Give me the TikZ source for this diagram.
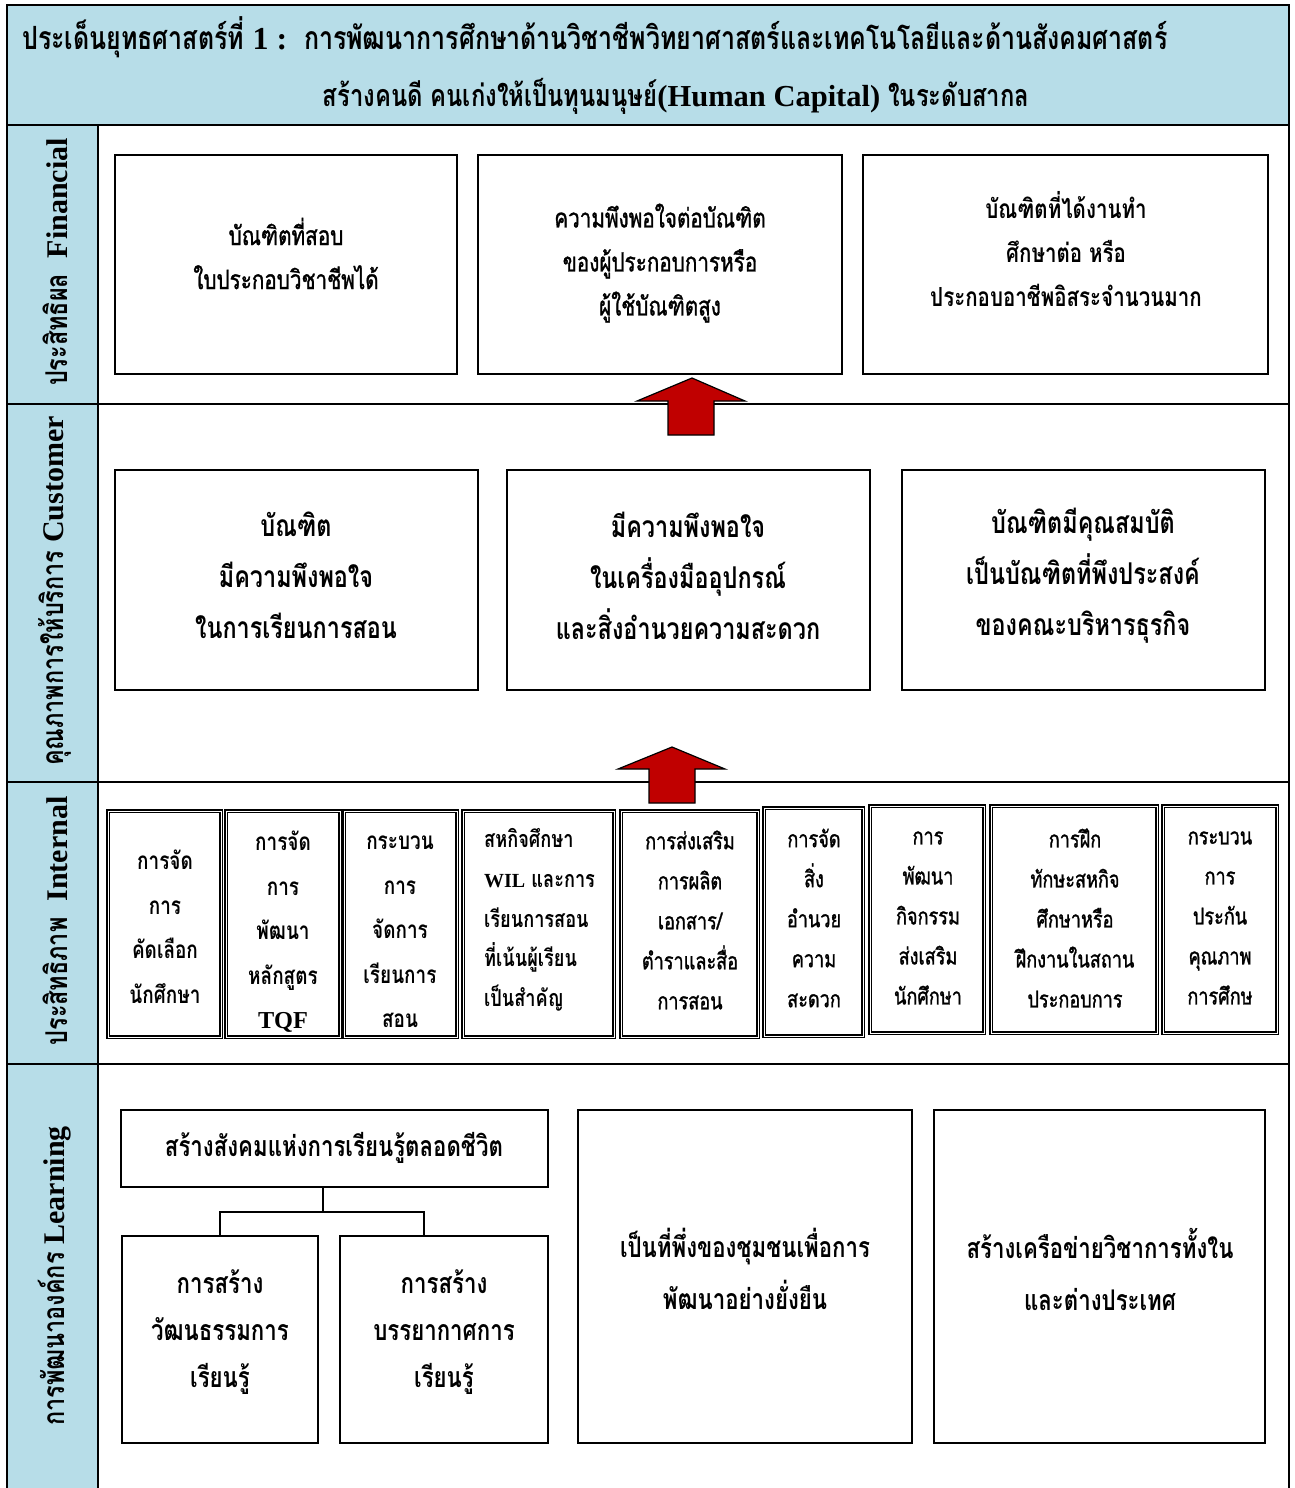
\documentclass[tikz,border=0pt]{standalone}
\usepackage{fontspec}
\newfontfamily\thai[Script=Thai,FakeStretch=0.78]{Loma}
\newfontfamily\thaim[Script=Thai,FakeStretch=0.78,FakeBold=1.2]{Loma}
\newfontfamily\lat{Liberation Serif}
\definecolor{lblue}{RGB}{183,221,232}
\definecolor{ared}{RGB}{192,0,0}
\begin{document}
\begin{tikzpicture}[x=1pt,y=-1pt,
  box/.style={draw, line width=1.5pt, fill=white, inner sep=0pt},
  dbox/.style={draw, line width=1.2pt, double=white, double distance=1pt, inner sep=0pt},
  txt/.style={align=center, inner sep=0pt},
  ttl/.style={inner sep=0pt, font=\thai\bfseries\fontsize{32}{34}\selectfont},
  lab/.style={inner sep=0pt, rotate=90, font=\thai\bfseries\fontsize{30}{32}\selectfont},
  ftxt/.style={txt, font=\thaim\fontsize{26.5}{44}\selectfont},
  ctxt/.style={txt, font=\thai\bfseries\fontsize{30}{51}\selectfont},
  itxt/.style={txt, font=\thai\bfseries\fontsize{24.3}{44.5}\selectfont},
  jtxt/.style={txt, font=\thaim\fontsize{23.2}{40}\selectfont},
  ltxt/.style={txt, font=\thai\bfseries\fontsize{28.5}{47}\selectfont},
  rtxt/.style={txt, font=\thai\bfseries\fontsize{28.5}{52}\selectfont},
  barrow/.style={draw=black, line width=1.2pt, fill=ared, line join=miter},
  conn/.style={draw, line width=1.3pt}]
\useasboundingbox (0,0) rectangle (1294,1488);
% bands
\fill[white] (0,0) rectangle (1294,1488);
\fill[lblue] (7,5) rectangle (1289,125);
\fill[lblue] (7,125) rectangle (98,1495);
\draw[line width=1.5pt] (7,1495) -- (7,5) -- (1289,5) -- (1289,1495);
\draw[line width=1.5pt] (7,125) -- (1289,125);
\draw[line width=1.5pt] (98,125) -- (98,1495);
\draw[line width=1.5pt] (7,404) -- (1289,404);
\draw[line width=1.5pt] (7,782) -- (1289,782);
\draw[line width=1.5pt] (7,1064) -- (1289,1064);
% title
\node[ttl, anchor=west] (t1) at (22,37) {ประเด็นยุทธศาสตร์ที่ {\lat\bfseries 1 :}\ \ การพัฒนาการศึกษาด้านวิชาชีพวิทยาศาสตร์และเทคโนโลยีและด้านสังคมศาสตร์};
\node[ttl, font=\thai\bfseries\fontsize{30.5}{34}\selectfont] (t2) at (676,96) {สร้างคนดี คนเก่งให้เป็นทุนมนุษย์{\lat\bfseries(Human Capital)} ในระดับสากล};
% side labels
\node[lab] (l1) at (55,262) {ประสิทธิผล\ \ {\lat\bfseries Financial}};
\node[lab] (l2) at (55,591) {คุณภาพการให้บริการ {\lat\bfseries Customer}};
\node[lab] (l3) at (55,921) {ประสิทธิภาพ\ \ {\lat\bfseries Internal}};
\node[lab] (l4) at (55,1276) {การพัฒนาองค์กร {\lat\bfseries Learning}};
% financial row
\node[box, minimum width=342, minimum height=219] (f1) at (286,264.5) {};
\node[box, minimum width=364, minimum height=219] (f2) at (660,264.5) {};
\node[box, minimum width=405, minimum height=219] (f3) at (1065.5,264.5) {};
\node[ftxt] (f1t) at (286,253.5) {บัณฑิตที่สอบ\\ใบประกอบวิชาชีพได้};
\node[ftxt] (f2t) at (660,263) {ความพึงพอใจต่อบัณฑิต\\ของผู้ประกอบการหรือ\\ผู้ใช้บัณฑิตสูง};
\node[ftxt, font=\thai\bfseries\fontsize{26.3}{44}\selectfont] (f3t) at (1066,249) {บัณฑิตที่ได้งานทำ\\ศึกษาต่อ หรือ\\ประกอบอาชีพอิสระจำนวนมาก};
% customer row
\node[box, minimum width=363, minimum height=220] (c1) at (296.5,580) {};
\node[box, minimum width=363, minimum height=220] (c2) at (688.5,580) {};
\node[box, minimum width=363, minimum height=220] (c3) at (1083.5,580) {};
\node[ctxt] (c1t) at (296,575.5) {บัณฑิต\\มีความพึงพอใจ\\ในการเรียนการสอน};
\node[ctxt] (c2t) at (688,575.5) {มีความพึงพอใจ\\ในเครื่องมืออุปกรณ์\\และสิ่งอำนวยความสะดวก};
\node[ctxt] (c3t) at (1083,575.5) {บัณฑิตมีคุณสมบัติ\\เป็นบัณฑิตที่พึงประสงค์\\ของคณะบริหารธุรกิจ};
% internal row
\node[dbox, minimum width=113, minimum height=226] (ia) at (164.5,924) {};
\node[dbox, minimum width=114, minimum height=226] (ib) at (283,924) {};
\node[dbox, minimum width=113, minimum height=226] (ic) at (400.5,924) {};
\node[dbox, minimum width=151, minimum height=226] (id) at (538.5,924) {};
\node[dbox, minimum width=137, minimum height=226] (ie) at (689.5,924) {};
\node[dbox, minimum width=99, minimum height=228] (if) at (813.5,922) {};
\node[dbox, minimum width=114, minimum height=227] (ig) at (927,919.5) {};
\node[dbox, minimum width=166, minimum height=227] (ih) at (1074,919.5) {};
\node[dbox, minimum width=114, minimum height=227] (ii) at (1220,919.5) {};
\node[itxt] (iat) at (165,926.5) {การจัด\\การ\\คัดเลือก\\นักศึกษา};
\begin{scope}
\clip (228,813) rectangle (338,1035);
\node[itxt] (ibt) at (283,932) {การจัด\\การ\\พัฒนา\\หลักสูตร\\{\lat\bfseries TQF}};
\end{scope}
\begin{scope}
\clip (346,813) rectangle (455,1035);
\node[itxt] (ict) at (400,932) {กระบวน\\การ\\จัดการ\\เรียนการ\\สอน};
\end{scope}
\node[itxt, align=left, anchor=west, font=\thai\bfseries\fontsize{23.3}{39.75}\selectfont] (idt) at (484,920) {สหกิจศึกษา\\{\lat\bfseries\fontsize{20}{39.75}\selectfont WIL} และการ\\เรียนการสอน\\ที่เน้นผู้เรียน\\เป็นสำคัญ};
\node[jtxt] (iet) at (690,920) {การส่งเสริม\\การผลิต\\เอกสาร/\\ตำราและสื่อ\\การสอน};
\node[jtxt] (ift) at (814,918) {การจัด\\สิ่ง\\อำนวย\\ความ\\สะดวก};
\node[jtxt] (igt) at (928,918) {การ\\พัฒนา\\กิจกรรม\\ส่งเสริม\\นักศึกษา};
\node[jtxt] (iht) at (1075,918) {การฝึก\\ทักษะสหกิจ\\ศึกษาหรือ\\ฝึกงานในสถาน\\ประกอบการ};
\node[jtxt] (iit) at (1220,918) {กระบวน\\การ\\ประกัน\\คุณภาพ\\การศึกษ};
% learning row
\node[box, minimum width=427, minimum height=77] (lt) at (334.5,1148.5) {};
\node[ltxt] (ltt) at (334,1148) {สร้างสังคมแห่งการเรียนรู้ตลอดชีวิต};
\node[box, minimum width=196, minimum height=207] (ch1) at (220,1339.5) {};
\node[box, minimum width=208, minimum height=207] (ch2) at (444,1339.5) {};
\node[ltxt] (ch1t) at (220,1332) {การสร้าง\\วัฒนธรรมการ\\เรียนรู้};
\node[ltxt] (ch2t) at (444,1332) {การสร้าง\\บรรยากาศการ\\เรียนรู้};
\node[box, minimum width=334, minimum height=333] (lr1) at (745,1276.5) {};
\node[box, minimum width=331, minimum height=333] (lr2) at (1099.5,1276.5) {};
\node[rtxt] (lr1t) at (745,1269) {เป็นที่พึ่งของชุมชนเพื่อการ\\พัฒนาอย่างยั่งยืน};
\node[rtxt] (lr2t) at (1100,1269) {สร้างเครือข่ายวิชาการทั้งใน\\และต่างประเทศ};
\coordinate (j) at (323,1212);
\coordinate (k) at (424,1212);
\draw[conn] (lt.south -| j) -- (j);
\draw[conn] (ch1.north) |- (j);
\draw[conn] (ch2.north -| k) |- (j);
% block arrows
\draw[barrow] (692,378) -- (745,401) -- (714,401) -- (714,435) -- (668,435) -- (668,401) -- (637,401) -- cycle;
\draw[barrow] (672,747) -- (725,769) -- (695,769) -- (695,803) -- (649,803) -- (649,769) -- (618,769) -- cycle;
\end{tikzpicture}
\end{document}
